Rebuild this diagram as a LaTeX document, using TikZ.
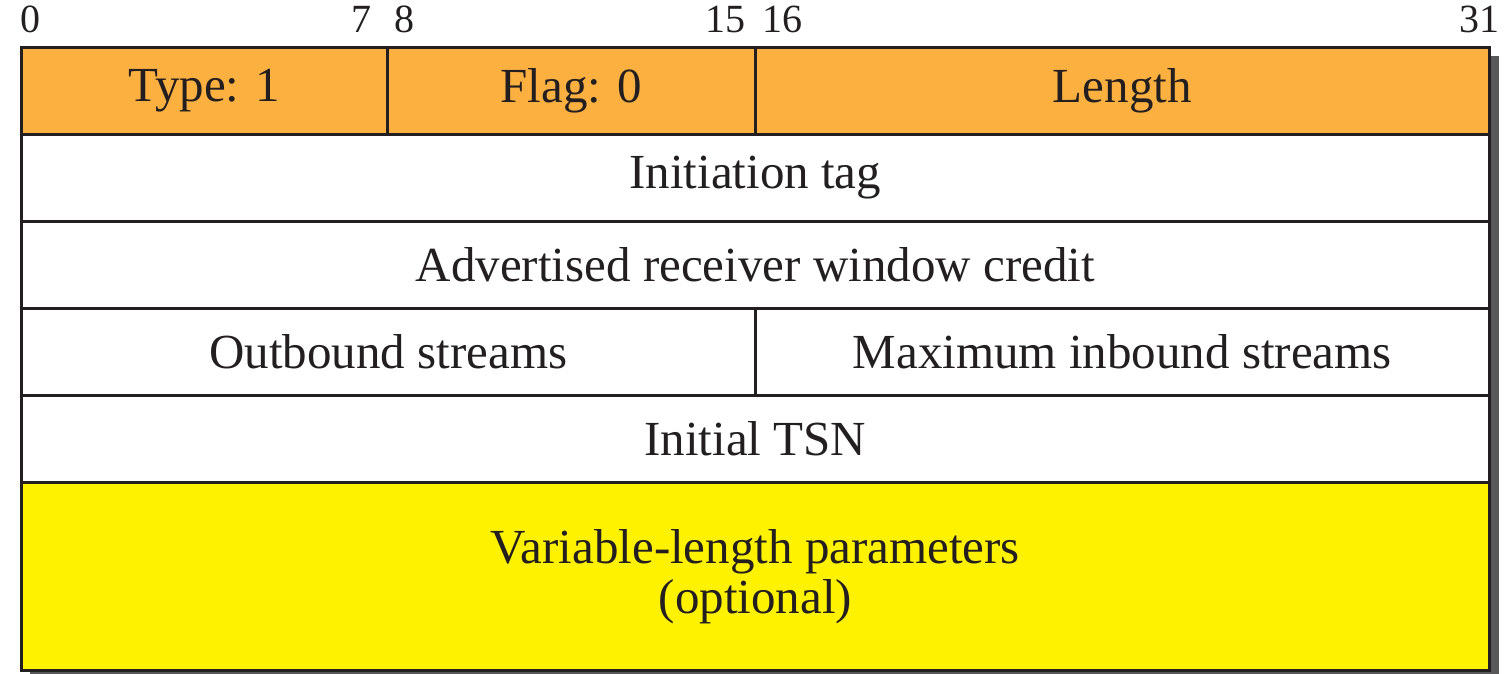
\documentclass[tikz,border=0pt]{standalone}
\usepackage{fontspec}
\setmainfont{Liberation Serif}
\usepackage{xcolor}
\definecolor{hdrorange}{HTML}{FBB040}
\definecolor{optyellow}{HTML}{FFF200}
\definecolor{inkgray}{HTML}{231F20}
\definecolor{shadowgray}{HTML}{58585A}
\tikzset{
  field/.style={draw=inkgray, line width=1.3pt, inner sep=0pt, text=inkgray,
    font=\fontsize{24.5}{28}\selectfont, align=center},
  bitnum/.style={inner sep=0pt, text=inkgray, font=\fontsize{20}{22}\selectfont}
}
\begin{document}
\begin{tikzpicture}[x=0.5pt,y=-0.5pt]
  \useasboundingbox (0,0) rectangle (1511,674);
  % shadow
  \fill[shadowgray] (30,56) rectangle (1499,678);
  % header row
  \node[field, fill=hdrorange, minimum width=183pt, minimum height=43.5pt, anchor=north west] (type) at (20,46) {Type: 1};
  \node[field, fill=hdrorange, minimum width=184pt, minimum height=43.5pt, anchor=north west] (flag) at (386,46) {Flag: 0};
  \node[field, fill=hdrorange, minimum width=367pt, minimum height=43.5pt, anchor=north west] (length) at (754,46) {Length};
  % 32-bit rows
  \node[field, fill=white, minimum width=734pt, minimum height=43.5pt, anchor=north west] (tag) at (20,133) {Initiation tag};
  \node[field, fill=white, minimum width=734pt, minimum height=43.5pt, anchor=north west] (credit) at (20,220) {Advertised receiver window credit};
  \node[field, fill=white, minimum width=367pt, minimum height=43.5pt, anchor=north west] (outb) at (20,307) {Outbound streams};
  \node[field, fill=white, minimum width=367pt, minimum height=43.5pt, anchor=north west] (inb) at (754,307) {Maximum inbound streams};
  \node[field, fill=white, minimum width=734pt, minimum height=43.5pt, anchor=north west] (tsn) at (20,394) {Initial TSN};
  \node[field, fill=optyellow, minimum width=734pt, minimum height=94pt, anchor=north west] (params) at (20,481) {Variable-length parameters\\[-3pt](optional)};
  % bit positions
  \node[bitnum, anchor=base west] (b0) at (20,33) {0};
  \node[bitnum, anchor=base east] (b7) at (372,33) {7};
  \node[bitnum, anchor=base west] (b8) at (394,33) {8};
  \node[bitnum, anchor=base east] (b15) at (746,33) {15};
  \node[bitnum, anchor=base west] (b16) at (762,33) {16};
  \node[bitnum, anchor=base east] (b31) at (1500,33) {31};
\end{tikzpicture}
\end{document}
